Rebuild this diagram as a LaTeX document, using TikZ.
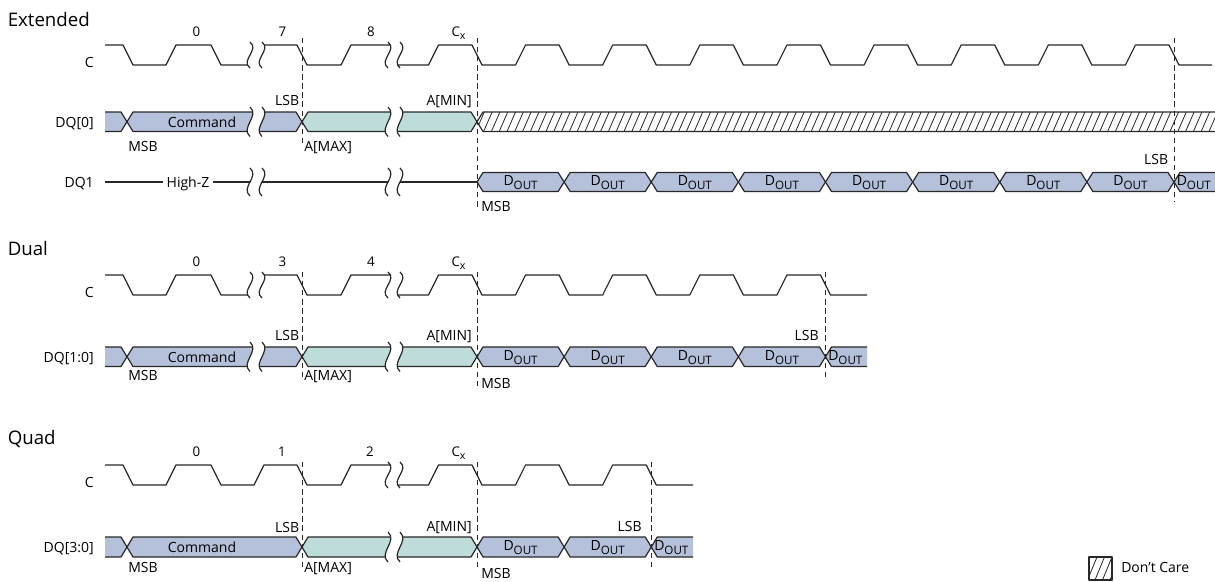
\documentclass[tikz,border=0pt]{standalone}
\usepackage{fontspec}
\setmainfont{Open Sans}

\definecolor{cmdblue}{RGB}{181,192,218}
\definecolor{addrteal}{RGB}{189,220,218}
\definecolor{wave}{RGB}{40,40,40}

\tikzset{
  sig/.style={draw=wave,line width=0.9pt,line join=round},
  marker/.style={draw=wave,line width=0.7pt,dash pattern=on 4pt off 2.8pt},
  hatch/.style={draw=wave,line width=0.6pt},
  lbl/.style={inner sep=0pt,font=\fontsize{10.5}{12}\selectfont},
  num/.style={inner sep=0pt,anchor=base,font=\fontsize{10}{11}\selectfont},
  heading/.style={inner sep=0pt,anchor=base west,font=\fontsize{14}{16}\selectfont}
}

\newcommand{\dout}{D\raisebox{-3pt}{\fontsize{8.7}{9}\selectfont OUT}}
\newcommand{\cxlbl}{C\raisebox{-2.4pt}{\fontsize{8}{9}\selectfont x}}

% clock: periods after C_x, end x
\newcommand{\clockrow}[2]{%
  \draw[sig] (105,45) -- (123,45) -- (133,65) -- (166,65) -- (176,45) -- (211,45) -- (221,65)
    -- (254,65) -- (264,45) -- (297,45) -- (307,65) -- (341,65) -- (351,45) -- (391,45)
    -- (397,65) -- (428.5,65) -- (438.5,45) -- (472,45)
    \foreach \k in {1,...,#1} { -- ++(10,20) -- ++(33.5625,0) -- ++(10,-20) -- ++(33.5625,0) }
    -- ++(10,20) -- (#2,65);
}
% bus cell: x from, x to, top, bottom, colour
\newcommand{\hexcell}[5]{%
  \filldraw[sig,fill=#5] ({#1},{(#3+#4)/2}) -- ({#1+6},#3) -- ({#2-6},#3) -- ({#2},{(#3+#4)/2})
    -- ({#2-6},#4) -- ({#1+6},#4) -- cycle;
}
\newcommand{\leadcell}[2]{%
  \fill[cmdblue] (105,#1) -- (121,#1) -- (127,{(#1+#2)/2}) -- (121,#2) -- (105,#2) -- cycle;
  \draw[sig] (105,#1) -- (121,#1) -- (127,{(#1+#2)/2}) -- (121,#2) -- (105,#2);
}
\newcommand{\tailcell}[4]{%
  \fill[cmdblue] ({#1},{(#3+#4)/2}) -- ({#1+6},#3) -- (#2,#3) -- (#2,#4) -- ({#1+6},#4) -- cycle;
  \draw[sig] (#2,#3) -- ({#1+6},#3) -- ({#1},{(#3+#4)/2}) -- ({#1+6},#4) -- (#2,#4);
}
% time break: x1, x2, top, bottom
\newcommand{\brkgap}[4]{%
  \fill[white] (#1,#3) .. controls +(10,{0.3*(#4-#3)}) and +(-10,{-0.3*(#4-#3)}) .. (#1,#4)
    -- (#2,#4) .. controls +(-10,{-0.3*(#4-#3)}) and +(10,{0.3*(#4-#3)}) .. (#2,#3) -- cycle;
  \draw[sig] (#1,#3) .. controls +(10,{0.3*(#4-#3)}) and +(-10,{-0.3*(#4-#3)}) .. (#1,#4);
  \draw[sig] (#2,#3) .. controls +(10,{0.3*(#4-#3)}) and +(-10,{-0.3*(#4-#3)}) .. (#2,#4);
}

\begin{document}
\begin{tikzpicture}[x=0.75pt,y=-0.75pt]
\useasboundingbox (0,0) rectangle (1215,582);

% Extended
\node[heading] (ext) at (7.5,26) {Extended};
\clockrow{8}{1212}
\leadcell{112}{131.5}
\hexcell{127}{302}{112}{131.5}{cmdblue}
\hexcell{302}{477}{112}{131.5}{addrteal}
\begin{scope}
  \clip (477,121.75) -- (483,112) -- (1216,112) -- (1216,131.5) -- (483,131.5) -- cycle;
  \foreach \x in {468,475.8,...,1225} \draw[hatch] (\x,131.5) -- ({\x+8.5},112);
\end{scope}
\draw[sig] (1216,112) -- (483,112) -- (477,121.75) -- (483,131.5) -- (1216,131.5);

\coordinate (dq1a) at (105,182);
\coordinate (dq1b) at (477,182);
\node[lbl,inner xsep=2.2pt,anchor=base] (hiz) at (188,187) {High-Z};
\draw[sig] (dq1a) -- (dq1a -| hiz.west);
\draw[sig] (dq1a -| hiz.east) -- (dq1b);
\foreach \k in {0,...,7} {
  \hexcell{477+87.125*\k}{564.125+87.125*\k}{172.5}{191.5}{cmdblue}
  \node[lbl,anchor=base] (dxa\k) at ({520.56+87.125*\k},185) {\dout};
}
\tailcell{1174}{1216}{172.5}{191.5}
\node[lbl,anchor=base west] (dxa8) at (1176.5,185) {\dout};

\brkgap{250}{262}{42}{68}
\brkgap{250}{262}{107}{136.5}
\brkgap{250}{262}{168}{196}
\brkgap{388}{400}{42}{68}
\brkgap{388}{400}{107}{136.5}
\brkgap{388}{400}{168}{196}

\draw[marker] (302,38) -- (302,146);
\draw[marker] (477,38) -- (477,210);
\draw[marker] (1174,38) -- (1174,202);

\node[lbl,anchor=base east] (ca) at (94,67) {C};
\node[lbl,anchor=base east] (dq0) at (94,127) {DQ[0]};
\node[lbl,anchor=base east] (dq1) at (94,187.5) {DQ1};
\node[num] (na0) at (196.5,36) {0};
\node[num] (na1) at (282.5,36) {7};
\node[num] (na2) at (371,36) {8};
\node[num] (na3) at (458.5,36) {\cxlbl};
\node[lbl,anchor=base] (cmda) at (202,127.5) {Command};
\node[lbl,anchor=base west] (msba) at (128,151.5) {MSB};
\node[lbl,anchor=base east] (lsba) at (299.5,105) {LSB};
\node[lbl,anchor=base west] (amaxa) at (304,151.5) {A[MAX]};
\node[lbl,anchor=base east] (amina) at (472,105) {A[MIN]};
\node[lbl,anchor=base west] (msba2) at (481,211.5) {MSB};
\node[lbl,anchor=base east] (lsba2) at (1168.5,164) {LSB};

% Dual
\begin{scope}[shift={(0,230)}]
  \node[heading] (dual) at (7.5,25) {Dual};
  \clockrow{4}{867}
  \leadcell{117}{136.5}
  \hexcell{127}{302}{117}{136.5}{cmdblue}
  \hexcell{302}{477}{117}{136.5}{addrteal}
  \foreach \k in {0,...,3} {
    \hexcell{477+87.125*\k}{564.125+87.125*\k}{117}{136.5}{cmdblue}
    \node[lbl,anchor=base] (dxb\k) at ({520.56+87.125*\k},130) {\dout};
  }
  \tailcell{825.5}{867}{117}{136.5}
  \node[lbl,anchor=base west] (dxb4) at (828,130) {\dout};

  \brkgap{250}{262}{42}{68}
  \brkgap{250}{262}{112}{141.5}
  \brkgap{388}{400}{42}{68}
  \brkgap{388}{400}{112}{141.5}

  \draw[marker] (302,42) -- (302,150);
  \draw[marker] (477,42) -- (477,157);
  \draw[marker] (825,42) -- (825,148);

  \node[lbl,anchor=base east] (cb) at (94,67) {C};
  \node[lbl,anchor=base east] (dq10) at (94,132) {DQ[1:0]};
  \node[num] (nb0) at (196.5,36.5) {0};
  \node[num] (nb1) at (282.5,36.5) {3};
  \node[num] (nb2) at (371,36.5) {4};
  \node[num] (nb3) at (458.5,36.5) {\cxlbl};
  \node[lbl,anchor=base] (cmdb) at (202,132.5) {Command};
  \node[lbl,anchor=base west] (msbb) at (128,150) {MSB};
  \node[lbl,anchor=base east] (lsbb) at (299.5,110) {LSB};
  \node[lbl,anchor=base west] (amaxb) at (304,150) {A[MAX]};
  \node[lbl,anchor=base east] (aminb) at (472,110) {A[MIN]};
  \node[lbl,anchor=base west] (msbb2) at (481,158) {MSB};
  \node[lbl,anchor=base east] (lsbb2) at (819,110) {LSB};
\end{scope}

% Quad
\begin{scope}[shift={(0,420)}]
  \node[heading] (quad) at (7.5,24.5) {Quad};
  \clockrow{2}{693}
  \leadcell{117}{137}
  \hexcell{127}{302}{117}{137}{cmdblue}
  \hexcell{302}{477}{117}{137}{addrteal}
  \foreach \k in {0,1} {
    \hexcell{477+87.125*\k}{564.125+87.125*\k}{117}{137}{cmdblue}
    \node[lbl,anchor=base] (dxc\k) at ({520.56+87.125*\k},130) {\dout};
  }
  \tailcell{651.25}{693}{117}{137}
  \node[lbl,anchor=base west] (dxc2) at (654,130) {\dout};

  \brkgap{388}{400}{42}{68}
  \brkgap{388}{400}{112}{142}

  \draw[marker] (302,42) -- (302,147);
  \draw[marker] (477,42) -- (477,148);
  \draw[marker] (651,42) -- (651,148);

  \node[lbl,anchor=base east] (cc) at (94,67) {C};
  \node[lbl,anchor=base east] (dq30) at (94,132) {DQ[3:0]};
  \node[num] (nc0) at (196.5,36.5) {0};
  \node[num] (nc1) at (282,36.5) {1};
  \node[num] (nc2) at (370,36.5) {2};
  \node[num] (nc3) at (458.5,36.5) {\cxlbl};
  \node[lbl,anchor=base] (cmdc) at (202,132.5) {Command};
  \node[lbl,anchor=base west] (msbc) at (128,152) {MSB};
  \node[lbl,anchor=base east] (lsbc) at (299.5,112) {LSB};
  \node[lbl,anchor=base west] (amaxc) at (304,152) {A[MAX]};
  \node[lbl,anchor=base east] (aminc) at (472,111) {A[MIN]};
  \node[lbl,anchor=base west] (msbc2) at (481,158) {MSB};
  \node[lbl,anchor=base east] (lsbc2) at (642,111) {LSB};
\end{scope}

% legend
\begin{scope}
  \clip (1089,557) rectangle (1112,580);
  \foreach \x in {1080,1087.5,...,1112} \draw[hatch] (\x,580) -- ({\x+9.5},557);
\end{scope}
\draw[sig,line width=0.8pt] (1089,557) rectangle (1112,580);
\node[lbl,anchor=base west] (dc) at (1121,572.5) {Don't Care};

\end{tikzpicture}
\end{document}
